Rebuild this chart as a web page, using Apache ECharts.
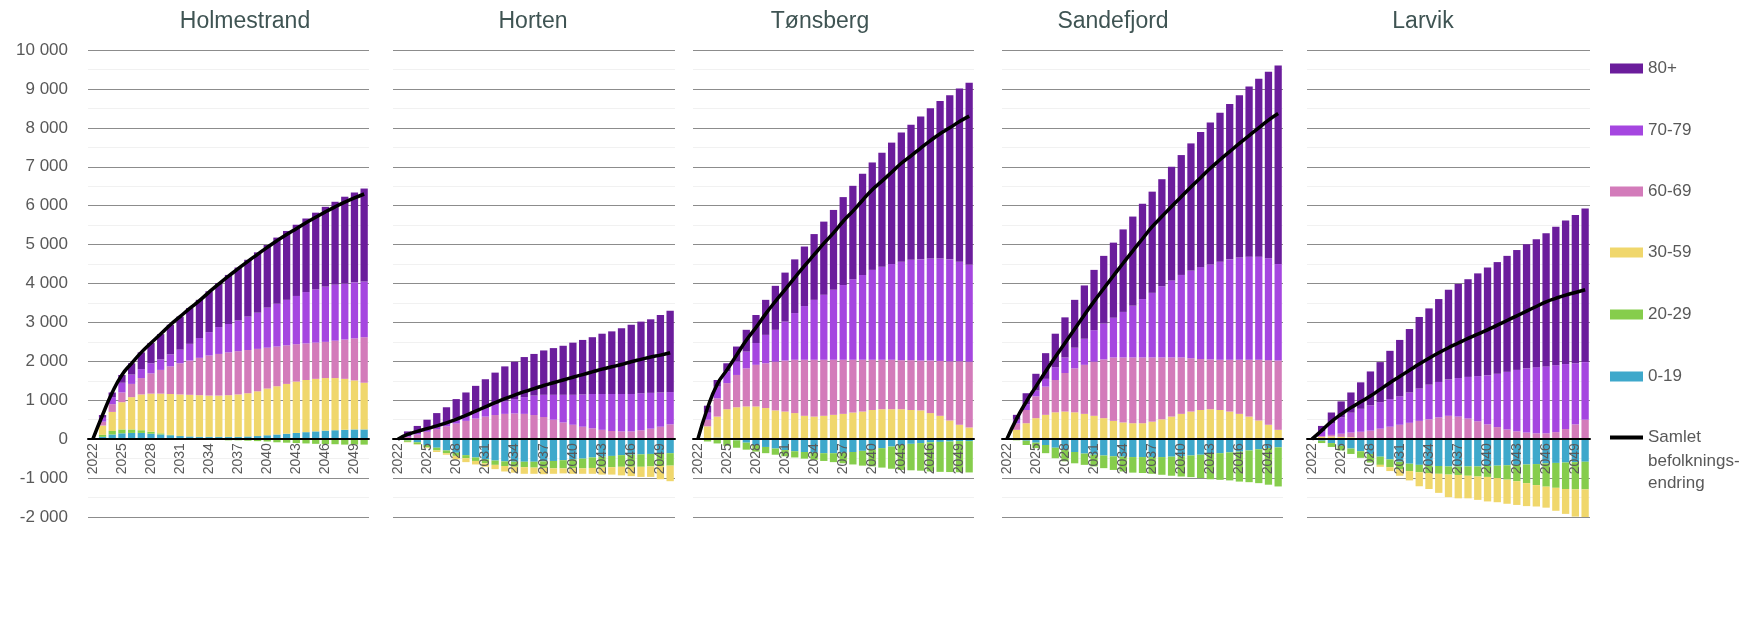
<!DOCTYPE html>
<html><head><meta charset="utf-8">
<script src="https://cdn.jsdelivr.net/npm/echarts@6/dist/echarts.min.js"></script>
<style>html,body{margin:0;padding:0;background:#fff}#c{width:1752px;height:637px}</style>
</head><body><div id="c"></div>
<script>
const years = ['2022','2023','2024','2025','2026','2027','2028','2029','2030','2031','2032','2033','2034','2035','2036','2037','2038','2039','2040','2041','2042','2043','2044','2045','2046','2047','2048','2049','2050'];
const municipalities = ['Holmestrand','Horten','Tønsberg','Sandefjord','Larvik'];
const ageGroups = ['0-19','20-29','30-59','60-69','70-79','80+'];
const totalName = 'Samlet befolkningsendring';
const yTicks = [-2000,-1000,0,1000,2000,3000,4000,5000,6000,7000,8000,9000,10000];

// Holmestrand
const holm_0_19  = [0,60,120,150,160,160,140,120,100,80,70,60,60,60,60,60,70,80,100,120,140,160,180,200,220,230,240,250,250];
const holm_20_29 = [0,50,90,100,90,70,50,30,10,0,-10,-20,-20,-20,-30,-30,-40,-50,-60,-80,-90,-100,-110,-120,-130,-130,-140,-140,-140];
const holm_30_59 = [0,240,490,700,830,920,980,1020,1050,1070,1070,1070,1060,1060,1070,1090,1110,1150,1200,1240,1280,1320,1340,1350,1350,1340,1310,1260,1200];
const holm_60_69 = [0,100,200,250,340,420,520,610,710,800,880,960,1030,1070,1100,1110,1110,1090,1050,1020,990,960,940,930,930,960,1010,1080,1170];
const holm_70_79 = [0,100,180,250,240,230,260,270,310,350,430,510,600,690,730,790,860,930,1030,1100,1170,1240,1320,1370,1420,1440,1440,1440,1430];
const holm_80    = [0,70,120,200,290,430,520,650,760,850,920,980,1050,1130,1260,1360,1460,1550,1610,1700,1770,1830,1890,1970,2050,2130,2230,2310,2390];
const holm_total = [0,620,1200,1650,1950,2230,2470,2700,2940,3150,3360,3560,3780,3990,4190,4380,4570,4750,4930,5100,5260,5410,5560,5700,5840,5970,6090,6200,6300];

// Horten
const hort_0_19  = [0,-30,-80,-150,-220,-290,-350,-410,-470,-520,-550,-570,-580,-580,-580,-570,-560,-540,-520,-500,-470,-450,-430,-410,-400,-390,-380,-370,-360];
const hort_20_29 = [0,-40,-50,-60,-70,-70,-80,-80,-90,-100,-110,-120,-130,-140,-150,-170,-190,-210,-230,-250,-270,-280,-290,-300,-310,-320,-320,-320,-320];
const hort_30_59 = [0,-10,-10,-20,-40,-40,-90,-100,-90,-90,-110,-140,-150,-170,-160,-160,-140,-130,-140,-140,-150,-180,-190,-220,-240,-260,-270,-340,-400];
const hort_60_69 = [0,60,120,190,260,330,400,470,530,580,620,650,660,650,620,570,500,430,370,320,280,240,210,200,200,230,270,320,380];
const hort_70_79 = [0,20,40,60,80,100,130,160,190,230,270,320,370,430,500,570,640,710,770,830,880,920,950,960,960,950,920,880,830];
const hort_80    = [0,120,180,250,330,390,500,570,650,730,820,900,960,1030,1070,1140,1200,1260,1340,1400,1460,1550,1610,1690,1780,1840,1890,1990,2090];
const hort_total = [0,120,200,270,340,420,510,610,720,830,940,1040,1130,1220,1300,1380,1450,1520,1590,1660,1730,1800,1860,1920,1990,2050,2110,2160,2220];

// Tønsberg
const tons_0_19  = [0,30,40,20,-30,-90,-150,-200,-240,-280,-310,-330,-350,-360,-360,-350,-330,-300,-270,-230,-190,-150,-120,-100,-80,-70,-60,-50,-50];
const tons_20_29 = [0,-60,-110,-170,-190,-180,-170,-160,-160,-160,-160,-170,-180,-200,-230,-270,-320,-380,-430,-500,-570,-640,-680,-710,-750,-770,-785,-800,-805];
const tons_30_59 = [0,300,540,750,820,840,840,800,740,710,670,600,580,600,625,650,685,710,750,770,770,770,750,740,670,600,480,370,300];
const tons_60_69 = [0,170,470,670,830,980,1070,1150,1250,1310,1370,1440,1460,1440,1415,1390,1355,1330,1290,1270,1270,1260,1280,1280,1350,1410,1520,1630,1690];
const tons_70_79 = [0,180,300,300,350,430,560,730,820,1000,1200,1380,1540,1670,1800,1920,2070,2180,2310,2390,2460,2530,2580,2600,2620,2630,2620,2560,2490];
const tons_80    = [0,180,170,210,380,560,720,900,1130,1260,1380,1530,1690,1880,2050,2260,2400,2600,2760,2930,3120,3320,3470,3670,3860,4050,4220,4450,4680];
const tons_total = [0,800,1410,1780,2160,2540,2870,3220,3540,3840,4150,4450,4740,5030,5300,5600,5860,6140,6410,6630,6860,7090,7280,7480,7670,7850,8000,8160,8300];

// Sandefjord
const sand_0_19  = [0,-10,-40,-90,-150,-220,-280,-330,-370,-400,-420,-440,-450,-460,-460,-460,-460,-450,-440,-420,-400,-380,-360,-340,-320,-290,-260,-230,-210];
const sand_20_29 = [0,-20,-110,-140,-210,-270,-290,-290,-290,-300,-325,-350,-380,-400,-410,-430,-455,-490,-520,-555,-600,-650,-685,-720,-770,-815,-870,-940,-1005];
const sand_30_59 = [0,240,410,540,625,690,710,690,650,600,540,470,430,410,410,450,510,580,650,710,750,770,750,710,650,580,480,370,240];
const sand_60_69 = [0,160,340,560,725,830,990,1130,1260,1390,1510,1630,1670,1690,1690,1650,1590,1520,1450,1370,1310,1280,1290,1330,1390,1460,1560,1660,1780];
const sand_70_79 = [0,100,150,150,200,330,400,530,670,810,920,1020,1170,1330,1500,1660,1830,1980,2120,2250,2360,2440,2520,2580,2630,2650,2650,2620,2480];
const sand_80    = [0,125,280,430,660,860,1030,1230,1370,1550,1740,1930,2120,2290,2450,2600,2750,2920,3080,3270,3470,3650,3830,3990,4170,4370,4570,4790,5100];
const sand_total = [0,520,960,1350,1740,2110,2470,2830,3190,3540,3870,4200,4520,4840,5150,5460,5720,5980,6230,6480,6720,6960,7180,7390,7600,7800,8000,8200,8370];

// Larvik
const larv_0_19  = [0,-40,-100,-170,-240,-310,-380,-450,-520,-580,-630,-660,-680,-690,-700,-700,-700,-700,-690,-680,-670,-660,-650,-640,-620,-610,-600,-590,-580];
const larv_20_29 = [0,-60,-100,-120,-140,-170,-220,-210,-200,-200,-190,-190,-190,-200,-210,-220,-240,-260,-280,-320,-370,-420,-480,-540,-600,-640,-680,-700,-710];
const larv_30_59 = [0,60,70,60,50,30,10,-50,-100,-160,-240,-360,-410,-490,-580,-600,-580,-600,-630,-620,-620,-610,-590,-550,-540,-590,-640,-700,-800];
const larv_60_69 = [0,20,40,80,120,160,210,270,320,370,420,470,510,560,600,580,530,460,380,310,250,200,170,150,150,180,260,380,500];
const larv_70_79 = [0,120,290,420,510,590,650,680,710,730,780,830,890,910,930,990,1070,1160,1260,1370,1480,1580,1650,1700,1720,1720,1670,1570,1480];
const larv_80    = [0,140,285,410,520,680,870,1030,1240,1450,1630,1840,1960,2130,2310,2420,2510,2640,2770,2870,2980,3080,3190,3290,3420,3560,3690,3810,3950];
const larv_total = [0,220,450,640,810,960,1110,1280,1450,1610,1770,1930,2080,2220,2350,2470,2590,2700,2810,2930,3050,3170,3290,3410,3530,3620,3700,3770,3840];

const panelData = [
  [holm_0_19,holm_20_29,holm_30_59,holm_60_69,holm_70_79,holm_80,holm_total],
  [hort_0_19,hort_20_29,hort_30_59,hort_60_69,hort_70_79,hort_80,hort_total],
  [tons_0_19,tons_20_29,tons_30_59,tons_60_69,tons_70_79,tons_80,tons_total],
  [sand_0_19,sand_20_29,sand_30_59,sand_60_69,sand_70_79,sand_80,sand_total],
  [larv_0_19,larv_20_29,larv_30_59,larv_60_69,larv_70_79,larv_80,larv_total]
];

const colors = ['#3ea8cb','#86cd4c','#f0d76c','#d37bba','#a546e0','#6b1d9c'];
const FONT = '"Liberation Sans", Arial, sans-serif';
const gridLefts = [88,393,693,1002,1307];
const gridWidths = [281,282,281,281,283];
const titleX = [240,528,815,1108,1418];
const GRID_TOP = 50, GRID_H = 467;
const yMin = yTicks[0], yMax = yTicks[yTicks.length - 1];
const zeroOffset = -GRID_H * (0 - yMin) / (yMax - yMin);

function fmt(v){
  const s = String(Math.abs(v));
  const t = s.replace(/\B(?=(\d{3})+(?!\d))/g, ' ');
  return (v < 0 ? '-' : '') + t;
}

const grid = [], xAxis = [], yAxis = [], series = [], title = [];
municipalities.forEach((m, i) => {
  grid.push({left: gridLefts[i], top: GRID_TOP, width: gridWidths[i], height: GRID_H, containLabel: false});
  title.push({text: m, left: titleX[i], top: 5, textAlign: 'center',
    textStyle: {fontSize: 23, fontWeight: 'normal', color: '#3f5453', fontFamily: FONT}});
  xAxis.push({type: 'category', gridIndex: i, data: years, z: 10, position: 'bottom', offset: zeroOffset,
    axisLine: {onZero: false, lineStyle: {color: '#000', width: 2}},
    axisTick: {show: false},
    axisLabel: {rotate: 90, interval: 2, fontSize: 14, color: '#595959', margin: 4, fontFamily: FONT}});
  yAxis.push({type: 'value', gridIndex: i, min: yMin, max: yMax, interval: 1000,
    axisLine: {show: false}, axisTick: {show: false},
    axisLabel: {show: i === 0, formatter: fmt, fontSize: 17, color: '#595959', margin: 20, fontFamily: FONT},
    splitLine: {lineStyle: {color: '#8c8c8c', width: 1}},
    minorTick: {show: false, splitNumber: 2},
    minorSplitLine: {show: true, lineStyle: {color: '#f1f1f1', width: 1}}});
  ageGroups.forEach((g, k) => {
    series.push({type: 'bar', name: g, xAxisIndex: i, yAxisIndex: i, stack: 'p' + i,
      data: panelData[i][k], barCategoryGap: '25%', itemStyle: {color: colors[k]},
      emphasis: {disabled: true}});
  });
  series.push({type: 'line', name: totalName, xAxisIndex: i, yAxisIndex: i, data: panelData[i][6],
    smooth: true, symbol: 'none', z: 5, lineStyle: {color: '#000', width: 3.5}, itemStyle: {color: '#000'},
    emphasis: {disabled: true}});
});

const legendOrder = ['80+','70-79','60-69','30-59','20-29','0-19'];
const legendY = [70,132,193,254,316,378];
const legend = legendOrder.map((n, j) => ({
  data: [n], left: 1610, top: legendY[j] - 10, padding: 0, icon: 'rect', itemWidth: 33, itemHeight: 10,
  selectedMode: false, textStyle: {fontSize: 17, color: '#595959', fontFamily: FONT}
}));
legend.push({data: [{name: totalName, icon: 'rect', itemStyle: {color: '#000'}}], left: 1610, top: 439 - 10, padding: 0,
  itemWidth: 33, itemHeight: 4, selectedMode: false, formatter: () => 'Samlet',
  textStyle: {fontSize: 17, color: '#595959', fontFamily: FONT}});

const chart = echarts.init(document.getElementById('c'), null, {renderer: 'canvas'});
chart.setOption({
  animation: false,
  backgroundColor: '#fff',
  title, grid, xAxis, yAxis, series, legend,
  graphic: [{type: 'text', left: 1648, top: 450,
    style: {text: 'befolknings-\nendring', font: '17px ' + FONT, fill: '#595959', lineHeight: 22}}]
});
</script></body></html>
